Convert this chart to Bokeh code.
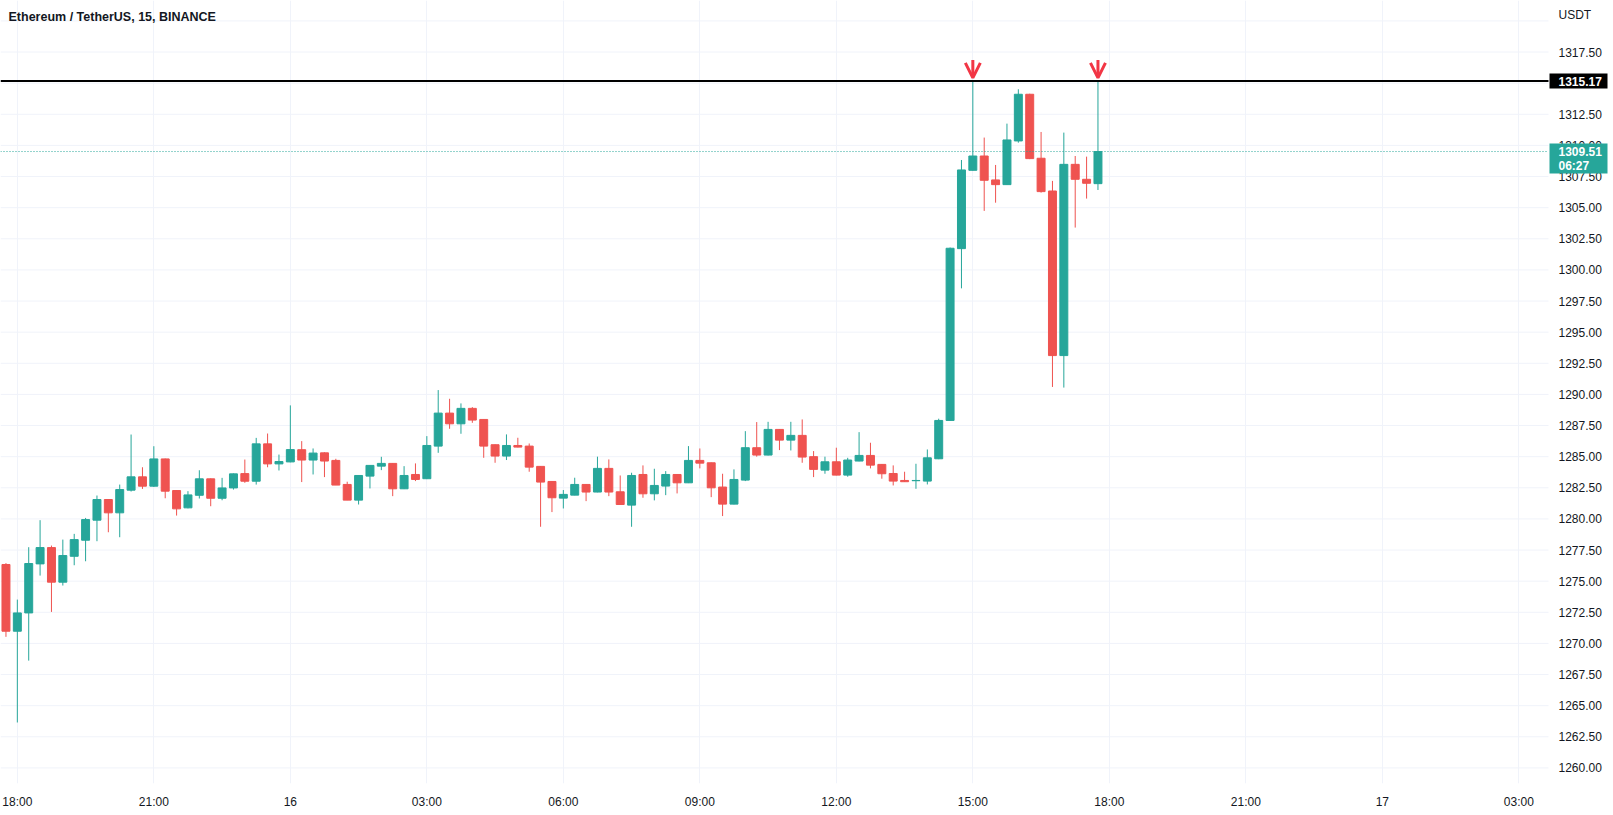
from bokeh.plotting import figure
from bokeh.models import (FixedTicker, Label, Arrow, OpenHead, Range1d)
from bokeh.core.properties import value
from bokeh.embed import file_html
from bokeh.resources import INLINE

# ---- data (15-minute candles, ETH/USDT, Binance) ----
opens = [1276.34, 1270.98, 1272.45, 1276.39, 1277.70, 1274.92, 1277.00, 1278.29, 1279.90, 1281.56,
         1280.49, 1282.31, 1283.38, 1282.63, 1284.82, 1282.28, 1280.89, 1281.90, 1283.22, 1281.66,
         1282.49, 1283.64, 1283.03, 1286.03, 1284.42, 1284.58, 1285.56, 1284.73, 1285.31, 1284.70,
         1282.77, 1281.51, 1283.44, 1284.24, 1284.46, 1282.42, 1283.57, 1283.23, 1285.85, 1288.50,
         1287.64, 1288.88, 1287.99, 1285.96, 1285.05, 1285.90, 1285.85, 1284.22, 1283.01, 1281.67,
         1281.91, 1282.77, 1282.16, 1284.06, 1282.18, 1281.11, 1283.57, 1282.02, 1282.64, 1283.57,
         1282.90, 1284.70, 1284.51, 1282.56, 1281.19, 1283.12, 1285.72, 1285.13, 1287.19, 1286.33,
         1286.71, 1285.00, 1283.92, 1284.59, 1283.52, 1284.65, 1285.10, 1284.38, 1283.65, 1283.09,
         1283.07, 1283.04, 1284.83, 1287.91, 1301.71, 1308.00, 1309.15, 1307.23, 1306.85, 1310.36,
         1314.11, 1308.97, 1306.34, 1293.12, 1308.48, 1307.28, 1306.93]
highs = [1276.45, 1273.52, 1277.73, 1279.90, 1277.86, 1278.34, 1278.80, 1280.08, 1281.88, 1281.60,
         1282.76, 1286.78, 1284.15, 1285.84, 1284.85, 1282.30, 1282.23, 1283.91, 1283.25, 1283.30,
         1283.65, 1284.77, 1286.51, 1286.86, 1285.17, 1289.12, 1286.25, 1285.66, 1285.35, 1284.83,
         1282.99, 1283.49, 1284.30, 1284.99, 1284.48, 1284.24, 1284.46, 1286.65, 1290.35, 1289.65,
         1289.28, 1288.98, 1288.00, 1285.98, 1286.79, 1286.52, 1286.06, 1284.25, 1283.03, 1282.32,
         1283.31, 1282.80, 1285.00, 1284.78, 1283.49, 1283.71, 1284.30, 1284.03, 1283.84, 1283.60,
         1285.85, 1285.66, 1284.53, 1283.63, 1283.98, 1287.05, 1287.78, 1287.80, 1287.22, 1287.80,
         1287.99, 1285.45, 1285.00, 1285.72, 1284.91, 1286.97, 1286.12, 1284.40, 1284.30, 1283.79,
         1284.43, 1285.58, 1288.05, 1301.80, 1308.83, 1315.17, 1310.63, 1308.43, 1311.75, 1314.51,
         1314.15, 1311.08, 1307.15, 1311.03, 1309.15, 1309.10, 1315.17]
lows = [1270.53, 1263.65, 1268.62, 1275.45, 1272.53, 1274.65, 1276.28, 1276.60, 1278.21, 1278.93,
        1278.53, 1282.20, 1282.41, 1282.57, 1281.66, 1280.27, 1280.85, 1281.64, 1281.02, 1281.50,
        1282.36, 1282.90, 1282.76, 1284.15, 1283.89, 1284.55, 1282.96, 1283.57, 1283.36, 1282.72,
        1281.51, 1281.16, 1282.45, 1283.92, 1281.83, 1282.40, 1283.04, 1283.20, 1285.31, 1287.24,
        1286.84, 1287.72, 1284.91, 1284.51, 1284.73, 1285.75, 1283.79, 1279.37, 1280.55, 1280.84,
        1281.90, 1281.43, 1282.14, 1281.83, 1281.16, 1279.37, 1281.70, 1281.49, 1281.91, 1282.05,
        1282.88, 1284.06, 1281.75, 1280.23, 1281.17, 1283.04, 1285.00, 1285.10, 1285.53, 1285.50,
        1284.51, 1283.36, 1283.63, 1283.50, 1283.39, 1284.63, 1284.06, 1283.23, 1282.69, 1282.97,
        1282.42, 1282.77, 1284.80, 1287.90, 1298.52, 1307.98, 1304.74, 1305.40, 1306.83, 1310.22,
        1308.90, 1306.21, 1290.60, 1290.55, 1303.40, 1305.73, 1306.42]
closes = [1270.98, 1272.45, 1276.42, 1277.70, 1274.92, 1277.06, 1278.34, 1279.95, 1281.56, 1280.49,
          1282.36, 1283.38, 1282.63, 1284.82, 1282.23, 1280.81, 1281.93, 1283.22, 1281.66, 1282.49,
          1283.62, 1283.03, 1286.03, 1284.42, 1284.61, 1285.57, 1284.73, 1285.29, 1284.65, 1282.72,
          1281.51, 1283.49, 1284.30, 1284.46, 1282.42, 1283.49, 1283.17, 1285.90, 1288.50, 1287.64,
          1288.88, 1287.94, 1285.85, 1285.05, 1285.90, 1285.77, 1284.16, 1282.96, 1281.70, 1281.97,
          1282.77, 1282.16, 1284.06, 1282.16, 1281.16, 1283.49, 1282.02, 1282.69, 1283.57, 1282.90,
          1284.70, 1284.48, 1282.50, 1281.19, 1283.17, 1285.72, 1285.13, 1287.19, 1286.33, 1286.71,
          1284.97, 1283.98, 1284.59, 1283.52, 1284.73, 1285.10, 1284.32, 1283.63, 1283.04, 1282.99,
          1283.09, 1284.91, 1287.91, 1301.74, 1308.03, 1309.15, 1307.20, 1306.85, 1310.44, 1314.11,
          1308.94, 1306.29, 1293.12, 1308.48, 1307.28, 1306.96, 1309.51]

time_tick_pos = [1, 13, 25, 37, 49, 61, 73, 85, 97, 109, 121, 133]
time_tick_labels = ["18:00", "21:00", "16", "03:00", "06:00", "09:00", "12:00",
                    "15:00", "18:00", "21:00", "17", "03:00"]
price_ticks = [1260.0, 1262.5, 1265.0, 1267.5, 1270.0, 1272.5, 1275.0, 1277.5, 1280.0, 1282.5,
               1285.0, 1287.5, 1290.0, 1292.5, 1295.0, 1297.5, 1300.0, 1302.5, 1305.0, 1307.5,
               1310.0, 1312.5, 1315.0, 1317.5]
price_tick_labels = [f"{v:.2f}" for v in price_ticks]
price_grid = price_ticks + [1320.0]

title_text = "Ethereum / TetherUS, 15, BINANCE"
currency = "USDT"
resistance = 1315.17
last_price = 1309.51
countdown = "06:27"
marker_idx = [85, 96]

UP = "#26a69a"
DOWN = "#ef5350"
ARROW = "#f23645"
TXT = "#131722"
GRID = "#f0f3fa"
FONT = "Liberation Sans"

# ---- layout constants (pixels -> data units) ----
W, H = 1613, 815
FRAME_H = 783
PX_PER_BAR = 11.375
X0 = -0.48
X_END = X0 + W / PX_PER_BAR
X_AXIS = X0 + 1548 / PX_PER_BAR        # left edge of the price scale
X_LABEL = X0 + 1558 / PX_PER_BAR       # left edge of price labels
X_BOX = X0 + 1578 / PX_PER_BAR         # centre of price-scale badges
Y0, Y1 = 1258.75, 1321.64
PX_PER_PRICE = FRAME_H / (Y1 - Y0)

idx = list(range(len(opens)))
colors = [UP if c >= o else DOWN for o, c in zip(opens, closes)]
tops = [max(o, c) for o, c in zip(opens, closes)]
bots = [min(o, c) for o, c in zip(opens, closes)]

p = figure(width=W, height=H, output_backend="svg", toolbar_location=None,
           x_range=Range1d(X0, X_END), y_range=Range1d(Y0, Y1),
           y_axis_location=None, x_axis_location="below",
           min_border_left=0, min_border_top=0, min_border_right=0,
           min_border_bottom=H - FRAME_H)
p.outline_line_color = None
p.background_fill_color = "white"
p.border_fill_color = "white"

# time axis
p.xaxis.ticker = FixedTicker(ticks=time_tick_pos)
p.xaxis.major_label_overrides = dict(zip(time_tick_pos, time_tick_labels))
p.xaxis.axis_line_color = None
p.xaxis.major_tick_line_color = None
p.xaxis.minor_tick_line_color = None
p.xaxis.major_tick_out = 0
p.xaxis.major_label_text_font = FONT
p.xaxis.major_label_text_font_size = "12px"
p.xaxis.major_label_text_color = TXT
p.xaxis.major_label_standoff = 11
p.xgrid.grid_line_color = GRID
p.ygrid.visible = False

# horizontal grid, stopping at the price scale
p.segment(x0=[X0] * len(price_grid), y0=price_grid, x1=[X_AXIS] * len(price_grid), y1=price_grid,
          line_color=GRID, line_width=1)

# price scale labels
p.text(x=[X_LABEL] * len(price_ticks), y=price_ticks, text=price_tick_labels,
       text_font=value(FONT), text_font_size=value("12px"), text_color=TXT,
       text_align="left", text_baseline="middle")

# candles
p.segment(x0=idx, y0=lows, x1=idx, y1=highs, line_color=colors, line_width=1)
p.vbar(x=idx, width=0.7, top=tops, bottom=bots, fill_color=colors, line_color=colors, line_width=1)

# horizontal lines
p.segment(x0=[X0], y0=[resistance], x1=[X_AXIS], y1=[resistance], line_color="#000000", line_width=2)
p.segment(x0=[X0], y0=[last_price], x1=[X_AXIS], y1=[last_price], line_color=UP, line_width=1,
          line_dash="1 2")

# price-scale badges
p.rect(x=[X_BOX], y=[resistance], width=58, height=15, width_units="screen", height_units="screen",
       fill_color="#000000", line_color=None)
p.text(x=[X_LABEL], y=[resistance], text=[f"{resistance:.2f}"],
       text_font=value(FONT), text_font_size=value("12px"), text_font_style="bold",
       text_color="white", text_align="left", text_baseline="middle")
p.rect(x=[X_BOX], y=[last_price - 7 / PX_PER_PRICE], width=58, height=30,
       width_units="screen", height_units="screen", fill_color=UP, line_color=None)
p.text(x=[X_LABEL, X_LABEL], y=[last_price, last_price - 14 / PX_PER_PRICE],
       text=[f"{last_price:.2f}", countdown],
       text_font=value(FONT), text_font_size=value("12px"), text_font_style="bold",
       text_color="white", text_align="left", text_baseline="middle")

# arrows
for i in marker_idx:
    p.add_layout(Arrow(end=OpenHead(size=15, line_color=ARROW, line_width=3),
                       x_start=i, y_start=resistance + 1.7, x_end=i, y_end=resistance + 0.25,
                       line_color=ARROW, line_width=3))

# texts
p.add_layout(Label(x=8, y=FRAME_H - 16, x_units="screen", y_units="screen", text=title_text,
                   text_font=FONT, text_font_size="12.5px", text_font_style="bold",
                   text_color=TXT, text_baseline="middle", text_align="left"))
p.add_layout(Label(x=X_LABEL, y=Y1, y_offset=-14, text=currency,
                   text_font=FONT, text_font_size="12px", text_color=TXT,
                   text_baseline="middle", text_align="left",
                   background_fill_color="white"))

open("out.html", "w").write(file_html(p, INLINE))
